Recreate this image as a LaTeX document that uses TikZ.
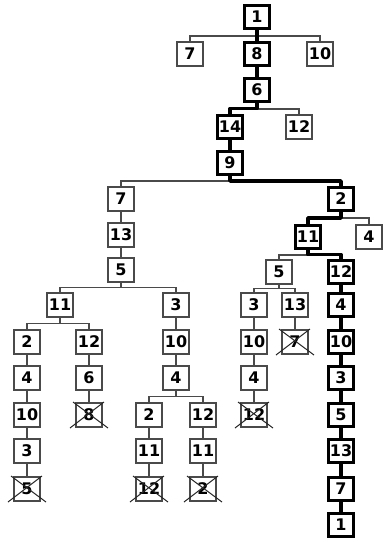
\documentclass[tikz,border=0pt]{standalone}
\usepackage{fontspec}
\setmainfont{DejaVu Sans}
\usetikzlibrary{calc,backgrounds}
\definecolor{thingray}{HTML}{4A4A4A}
\tikzset{
  box/.style={draw=thingray, line width=1.8pt, fill=white, minimum width=26pt, minimum height=24pt, inner sep=0pt, font=\fontsize{16}{16}\selectfont\bfseries},
  pbox/.style={box, draw=black, line width=3.8pt, minimum width=25pt, minimum height=23pt},
  tline/.style={draw=thingray, line width=1.8pt},
  pline/.style={draw=black, line width=3.8pt, line join=round},
  xmark/.style={draw=black!85, line width=1pt},
}
\newcommand\tedge[2]{\draw[tline] (#1.south) |- ($(#1.south)!.5!(#2.north)$) -| (#2.north);}
\newcommand\pedge[2]{\draw[pline] (#1.south) |- ($(#1.south)!.5!(#2.north)$) -| (#2.north);}
\newcommand\xcross[1]{\draw[xmark] ($(#1)+(-19,13)$) -- ($(#1)+(15,-13)$) ($(#1)+(-16,-13)$) -- ($(#1)+(19,13)$);}
\begin{document}
\begin{tikzpicture}[x=1pt,y=-1pt]
\useasboundingbox (0,0) rectangle (383,542);
% nodes
\node[pbox] (a1) at (257,17) {1};
\node[box] (a7) at (190,54) {7};
\node[pbox] (a8) at (257,54) {8};
\node[box] (a10) at (320,54) {10};
\node[pbox] (a6) at (257,90) {6};
\node[pbox] (a14) at (230,127) {14};
\node[box] (a12) at (299,127) {12};
\node[pbox] (a9) at (230,163) {9};
\node[box] (b7) at (121,199) {7};
\node[pbox] (b2) at (341,199) {2};
\node[box] (b13) at (121,235) {13};
\node[pbox] (c11) at (308,237) {11};
\node[box] (c4) at (369,237) {4};
\node[box] (b5) at (121,270) {5};
\node[box] (d5) at (279,272) {5};
\node[pbox] (d12) at (341,272) {12};
% row 8
\node[box] (e11) at (60,305) {11};
\node[box] (e3) at (176,305) {3};
\node[box] (f3) at (254,305) {3};
\node[box] (f13) at (295,305) {13};
\node[pbox] (g4) at (341,305) {4};
% row 9
\node[box] (h2) at (27,342) {2};
\node[box] (h12) at (89,342) {12};
\node[box] (i10) at (176,342) {10};
\node[box] (j10) at (254,342) {10};
\node[box] (j7) at (295,342) {7};
\node[pbox] (g10) at (341,342) {10};
% row 10
\node[box] (h4) at (27,378) {4};
\node[box] (h6) at (89,378) {6};
\node[box] (i4) at (176,378) {4};
\node[box] (j4) at (254,378) {4};
\node[pbox] (g3) at (341,378) {3};
% row 11
\node[box] (h10) at (27,415) {10};
\node[box] (h8) at (89,415) {8};
\node[box] (i2) at (149,415) {2};
\node[box] (i12) at (203,415) {12};
\node[box] (j12) at (254,415) {12};
\node[pbox] (g5) at (341,415) {5};
% row 12
\node[box] (h3) at (27,451) {3};
\node[box] (i11) at (149,451) {11};
\node[box] (k11) at (203,451) {11};
\node[pbox] (g13) at (341,451) {13};
% row 13
\node[box] (h5) at (27,489) {5};
\node[box] (i12x) at (149,489) {12};
\node[box] (k2) at (203,489) {2};
\node[pbox] (g7) at (341,489) {7};
% row 14
\node[pbox] (g1) at (341,525) {1};
% crosses
\xcross{j7}
\xcross{h8}
\xcross{j12}
\xcross{h5}
\xcross{i12x}
\xcross{k2}
% edges
\begin{pgfonlayer}{background}
\tedge{a1}{a7}
\tedge{a1}{a10}
\tedge{a6}{a12}
\tedge{a9}{b7}
\tedge{b7}{b13}
\tedge{b13}{b5}
\tedge{b5}{e11}
\tedge{b5}{e3}
\tedge{e11}{h2}
\tedge{e11}{h12}
\tedge{h2}{h4}
\tedge{h4}{h10}
\tedge{h10}{h3}
\tedge{h3}{h5}
\tedge{h12}{h6}
\tedge{h6}{h8}
\tedge{e3}{i10}
\tedge{i10}{i4}
\tedge{i4}{i2}
\tedge{i4}{i12}
\tedge{i2}{i11}
\tedge{i11}{i12x}
\tedge{i12}{k11}
\tedge{k11}{k2}
\tedge{b2}{c4}
\tedge{c11}{d5}
\tedge{d5}{f3}
\tedge{d5}{f13}
\tedge{f3}{j10}
\tedge{j10}{j4}
\tedge{j4}{j12}
\tedge{f13}{j7}
\pedge{a1}{a8}
\pedge{a8}{a6}
\pedge{a6}{a14}
\pedge{a14}{a9}
\pedge{a9}{b2}
\pedge{b2}{c11}
\pedge{c11}{d12}
\pedge{d12}{g4}
\pedge{g4}{g10}
\pedge{g10}{g3}
\pedge{g3}{g5}
\pedge{g5}{g13}
\pedge{g13}{g7}
\pedge{g7}{g1}
\end{pgfonlayer}
\end{tikzpicture}
\end{document}
